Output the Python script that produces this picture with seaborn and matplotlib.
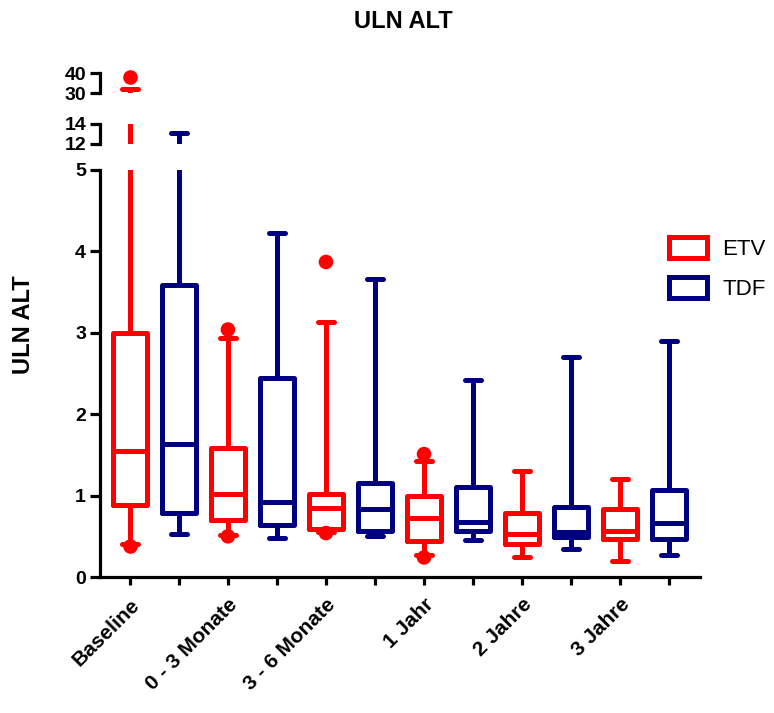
import numpy as np
import pandas as pd
import seaborn as sns
import matplotlib
matplotlib.use("Agg")
import matplotlib.pyplot as plt
from matplotlib.patches import Patch

# groups on the x axis and the two treatments
groups = ["Baseline", "0 - 3 Monate", "3 - 6 Monate", "1 Jahr", "2 Jahre", "3 Jahre"]
treatments = ["ETV", "TDF"]
colors = {"ETV": "#ff0000", "TDF": "#000080"}

# box statistics: whisker low, Q1, median, Q3, whisker high
etv_low = [0.40, 0.52, 0.55, 0.27, 0.25, 0.20]
etv_q1 = [0.89, 0.70, 0.59, 0.44, 0.41, 0.47]
etv_med = [1.55, 1.02, 0.85, 0.72, 0.53, 0.56]
etv_q3 = [3.00, 1.59, 1.02, 1.00, 0.79, 0.83]
etv_high = [32.0, 2.93, 3.13, 1.43, 1.30, 1.20]

tdf_low = [0.53, 0.48, 0.50, 0.46, 0.34, 0.27]
tdf_q1 = [0.79, 0.64, 0.57, 0.56, 0.49, 0.47]
tdf_med = [1.63, 0.92, 0.83, 0.67, 0.55, 0.66]
tdf_q3 = [3.59, 2.45, 1.16, 1.10, 0.86, 1.07]
tdf_high = [13.1, 4.23, 3.66, 2.42, 2.70, 2.90]

# single points outside the whiskers (ETV only)
out_group = ["Baseline", "Baseline", "0 - 3 Monate", "0 - 3 Monate",
             "3 - 6 Monate", "3 - 6 Monate", "1 Jahr", "1 Jahr"]
out_value = [38.0, 0.38, 3.04, 0.50, 3.87, 0.54, 1.51, 0.24]

# y axis is broken into three pieces
segments = [(30, 40), (12, 14), (0, 5)]
segment_ticks = [[30, 40], [12, 14], [0, 1, 2, 3, 4, 5]]

# long table: five values per box reproduce the quartiles exactly
rows = []
stats = {"ETV": (etv_low, etv_q1, etv_med, etv_q3, etv_high),
         "TDF": (tdf_low, tdf_q1, tdf_med, tdf_q3, tdf_high)}
for i, g in enumerate(groups):
    for t in treatments:
        for arr in stats[t]:
            rows.append({"pos": f"{g} {t}", "trt": t, "value": arr[i]})
df = pd.DataFrame(rows)
order = [f"{g} {t}" for g in groups for t in treatments]
outliers = pd.DataFrame({"pos": [f"{g} ETV" for g in out_group],
                         "trt": "ETV", "value": out_value})

sns.set_style("white")
plt.rcParams["font.family"] = ["Liberation Sans", "DejaVu Sans"]
plt.rcParams["font.weight"] = "bold"
for k in ["text.color", "axes.labelcolor", "xtick.color", "ytick.color"]:
    plt.rcParams[k] = "black"

W, H = 774, 713
fig = plt.figure(figsize=(W / 100, H / 100), dpi=100)
x0, x1 = 100, 700
pix = {(30, 40): (93, 73), (12, 14): (144, 124), (0, 5): (577, 170)}

lw = 3.6
for (lo, hi), ticks in zip(segments, segment_ticks):
    pb, pt = pix[(lo, hi)]
    ax = fig.add_axes([x0 / W, 1 - pb / H, (x1 - x0) / W, (pb - pt) / H])
    sns.boxplot(data=df, x="pos", y="value", hue="trt", order=order,
                hue_order=treatments, palette=colors, fill=False, dodge=False,
                whis=(0, 100), width=0.68, linewidth=lw, legend=False, ax=ax)
    sub = outliers[(outliers["value"] >= lo) & (outliers["value"] <= hi)]
    if len(sub):
        sns.stripplot(data=sub, x="pos", y="value", hue="trt", order=order,
                      hue_order=treatments, palette=colors, jitter=False,
                      dodge=False, size=10.5, legend=False, ax=ax,
                      zorder=5, clip_on=False)
    ax.set_ylim(lo, hi)
    ax.set_xlim(-0.61, 11.63)
    ax.set_yticks(ticks)
    ax.set_yticklabels([str(t) for t in ticks], fontsize=14, fontweight="bold")
    ax.set_xlabel("")
    ax.set_ylabel("")
    ax.patch.set_alpha(0)
    for s in ["top", "right"]:
        ax.spines[s].set_visible(False)
    ax.spines["left"].set_linewidth(2.3)
    ax.spines["left"].set_color("black")
    ax.tick_params(axis="y", length=7, width=2.3, pad=3, color="black", left=True)
    if lo == 0:
        ax.spines["bottom"].set_linewidth(2.3)
        ax.spines["bottom"].set_color("black")
        ax.set_xticks(range(len(order)))
        labels = [o.rsplit(" ", 1)[0] if o.endswith("ETV") else "" for o in order]
        ax.set_xticklabels(labels, rotation=45, ha="right",
                           rotation_mode="anchor", fontsize=15, fontweight="bold")
        ax.tick_params(axis="x", length=6, width=2.3, pad=7, color="black", bottom=True)
    else:
        ax.spines["bottom"].set_visible(False)
        ax.set_xticks([])

fig.text(403 / W, 1 - 22 / H, "ULN ALT", ha="center", va="center",
         fontsize=17, fontweight="bold")
fig.text(24 / W, 1 - 325 / H, "ULN ALT", ha="center", va="center",
         rotation=90, fontsize=17, fontweight="bold")

handles = [Patch(facecolor="white", edgecolor=colors[t], linewidth=lw, label=t)
           for t in treatments]
fig.legend(handles=handles, loc="upper left", bbox_to_anchor=(649 / W, 1 - 217 / H),
           frameon=False, prop={"size": 16, "weight": "normal"},
           handlelength=1.7, handleheight=1.1, handletextpad=0.7, labelspacing=0.75)

fig.savefig("out.png", dpi=100)
